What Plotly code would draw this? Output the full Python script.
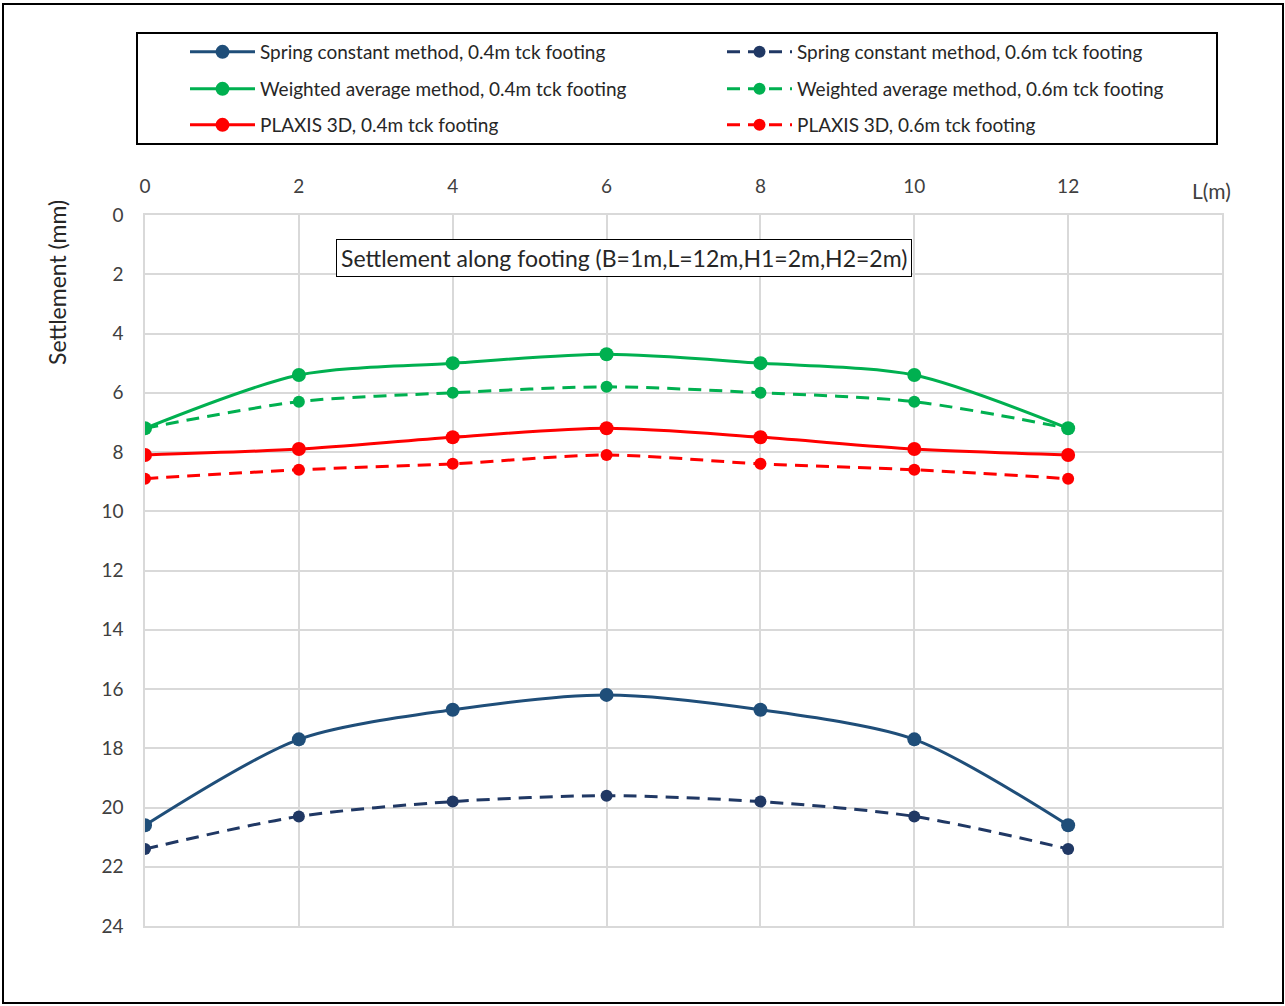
import plotly.graph_objects as go

L = [0, 2, 4, 6, 8, 10, 12]
spring_04 = [20.6, 17.7, 16.7, 16.2, 16.7, 17.7, 20.6]
spring_06 = [21.4, 20.3, 19.8, 19.6, 19.8, 20.3, 21.4]
weighted_04 = [7.2, 5.4, 5.0, 4.7, 5.0, 5.4, 7.2]
weighted_06 = [7.2, 6.3, 6.0, 5.8, 6.0, 6.3, 7.2]
plaxis_04 = [8.1, 7.9, 7.5, 7.2, 7.5, 7.9, 8.1]
plaxis_06 = [8.9, 8.6, 8.4, 8.1, 8.4, 8.6, 8.9]
x_ticks = [0, 2, 4, 6, 8, 10, 12]
y_ticks = [0, 2, 4, 6, 8, 10, 12, 14, 16, 18, 20, 22, 24]

FONT = "Lato"
BLUE = "#1F4E79"
NAVY = "#203864"
GREEN = "#00B050"
RED = "#FF0000"

# plot area in pixels
PL, PR, PT, PB = 145, 1222, 215, 926
W, H = 1285, 1006


def px_x(p):
    return (p - PL) / (PR - PL)


def px_y(p):
    return (PB - p) / (PB - PT)


fig = go.Figure()

series = [
    ("Spring constant method, 0.4m tck footing", spring_04, BLUE, "solid", 14, "legend"),
    ("Spring constant method, 0.6m tck footing", spring_06, NAVY, "13px,8px", 12, "legend"),
    ("Weighted average method, 0.4m tck footing", weighted_04, GREEN, "solid", 14, "legend2"),
    ("Weighted average method, 0.6m tck footing", weighted_06, GREEN, "13px,8px", 12, "legend2"),
    ("PLAXIS 3D, 0.4m tck footing", plaxis_04, RED, "solid", 14, "legend3"),
    ("PLAXIS 3D, 0.6m tck footing", plaxis_06, RED, "13px,8px", 12, "legend3"),
]

for name, vals, col, dash, ms, lg in series:
    fig.add_trace(go.Scatter(
        x=L, y=vals, name=name, mode="lines+markers",
        line=dict(color=col, width=3, dash=dash, shape="spline", smoothing=0.8),
        marker=dict(color=col, size=ms, symbol="circle"),
        legend=lg,
    ))

leg_common = dict(
    orientation="h", xanchor="left", yanchor="middle",
    x=px_x(185), entrywidth=457, entrywidthmode="pixels", itemwidth=65,
    font=dict(family=FONT, size=19, color="#262626"),
    bgcolor="rgba(0,0,0,0)", borderwidth=0,
)

fig.update_layout(
    width=W, height=H,
    margin=dict(l=PL, r=W - PR, t=PT, b=H - PB),
    paper_bgcolor="white", plot_bgcolor="white",
    font=dict(family=FONT, color="#404040"),
    legend=dict(leg_common, y=px_y(52)),
    legend2=dict(leg_common, y=px_y(89)),
    legend3=dict(leg_common, y=px_y(125)),
    xaxis=dict(
        range=[0, 14], side="top", tickvals=x_ticks,
        ticktext=[str(v) for v in x_ticks],
        showgrid=True, gridcolor="#D9D9D9", gridwidth=1.5,
        showline=True, linecolor="#D9D9D9", linewidth=1.5, mirror=True,
        zeroline=False, ticks="", ticklabelstandoff=13,
        tickfont=dict(family=FONT, size=19, color="#404040"),
    ),
    yaxis=dict(
        range=[24, 0], tickvals=y_ticks,
        showgrid=True, gridcolor="#D9D9D9", gridwidth=1.5,
        showline=True, linecolor="#D9D9D9", linewidth=1.5, mirror=True,
        zeroline=False, ticks="", ticklabelstandoff=16,
        tickfont=dict(family=FONT, size=19, color="#404040"),
    ),
    shapes=[
        dict(type="rect", xref="paper", yref="paper",
             x0=px_x(137), x1=px_x(1217), y0=px_y(144), y1=px_y(33),
             line=dict(color="#000000", width=2), layer="above"),
        dict(type="rect", xref="paper", yref="paper",
             x0=px_x(3), x1=px_x(1283), y0=px_y(1003), y1=px_y(4),
             line=dict(color="#000000", width=2), layer="above"),
    ],
    annotations=[
        dict(text="Settlement along footing (B=1m,L=12m,H1=2m,H2=2m)",
             xref="paper", yref="paper", x=px_x(624), y=px_y(258),
             xanchor="center", yanchor="middle", showarrow=False,
             font=dict(family=FONT, size=23, color="#262626"),
             bordercolor="#000000", borderwidth=1, borderpad=4, bgcolor="white"),
        dict(text="L(m)", xref="paper", yref="paper", x=px_x(1211), y=px_y(191),
             xanchor="center", yanchor="middle", showarrow=False,
             font=dict(family=FONT, size=21, color="#404040")),
        dict(text="Settlement (mm)", xref="paper", yref="paper",
             x=px_x(57), y=px_y(283), textangle=-90,
             xanchor="center", yanchor="middle", showarrow=False,
             font=dict(family=FONT, size=23, color="#262626")),
    ],
)

fig.write_html("out.html", config={"displayModeBar": False},
               post_script="document.body.style.margin='0px';")
